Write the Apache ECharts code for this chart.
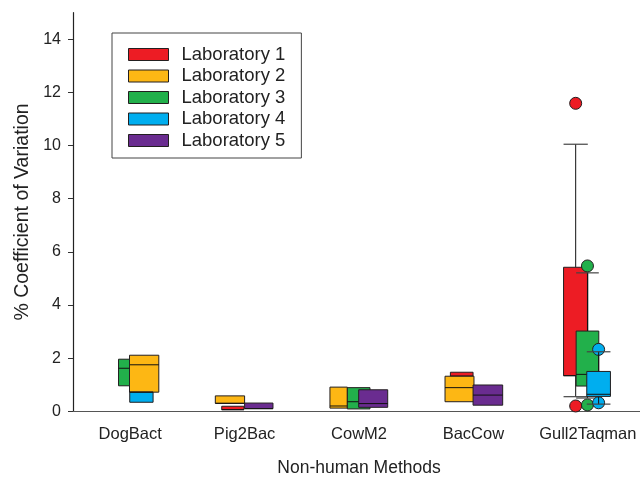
<!DOCTYPE html>
<html>
<head>
<meta charset="utf-8">
<script src="https://cdn.jsdelivr.net/npm/echarts@6/dist/echarts.min.js"></script>
<style>
  html, body { margin: 0; padding: 0; background: #fff; }
  #chart { width: 640px; height: 479px; }
</style>
</head>
<body>
<div id="chart"></div>
<script>
// Methods on the x axis
const categories = ['DogBact', 'Pig2Bac', 'CowM2', 'BacCow', 'Gull2Taqman'];
const labNames = ['Laboratory 1', 'Laboratory 2', 'Laboratory 3', 'Laboratory 4', 'Laboratory 5'];
const yTicks = [0, 2, 4, 6, 8, 10, 12, 14];

// Box statistics per lab: [method index, low whisker, Q1, median, Q3, high whisker]
// (null whisker = no whisker drawn)
const lab1Boxes = [
  [1, null, 0.06, 0.06, 0.19, null],
  [3, null, 1.32, 1.32, 1.47, null],
  [4, 0.55, 1.34, 1.34, 5.42, 10.05]
];
const lab2Boxes = [
  [0, null, 0.72, 1.75, 2.11, null],
  [1, null, 0.30, 0.30, 0.58, null],
  [2, null, 0.12, 0.20, 0.91, null],
  [3, null, 0.36, 0.89, 1.32, null]
];
const lab3Boxes = [
  [0, null, 0.96, 1.62, 1.96, null],
  [2, null, 0.09, 0.36, 0.89, null],
  [4, 0.50, 0.95, 1.39, 3.02, 5.21]
];
const lab4Boxes = [
  [0, null, 0.34, 0.72, 0.72, null],
  [4, 0.27, 0.56, 0.64, 1.50, 2.24]
];
const lab5Boxes = [
  [1, null, 0.10, 0.10, 0.31, null],
  [2, null, 0.15, 0.29, 0.81, null],
  [3, null, 0.23, 0.61, 0.99, null]
];

// Outlying points per lab: [method index, value]
const lab1Outliers = [[4, 11.59], [4, 0.20]];
const lab2Outliers = [];
const lab3Outliers = [[4, 5.47], [4, 0.24]];
const lab4Outliers = [[4, 2.33], [4, 0.32]];
const lab5Outliers = [];

// Horizontal extent of each box, as fractions of the category band
// relative to the category centre (same order as the box arrays above)
const lab1Spans = [[-0.20, -0.006], [-0.201, -0.003], [-0.212, 0.0]];
const lab2Spans = [[-0.006, 0.25], [-0.256, 0.0], [-0.254, -0.102], [-0.248, 0.005]];
const lab3Spans = [[-0.102, -0.006], [-0.102, 0.096], [-0.102, 0.096]];
const lab4Spans = [[-0.004, 0.20], [-0.009, 0.198]];
const lab5Spans = [[0.0, 0.248], [-0.003, 0.251], [-0.003, 0.256]];

const labColors = ['#ED1C24', '#FDB714', '#22B04B', '#00AEEF', '#6A2C90'];
const edgeColor = '#231F20';
const FONT = 'Liberation Sans, Arial, sans-serif';

const labBoxes = [lab1Boxes, lab2Boxes, lab3Boxes, lab4Boxes, lab5Boxes];
const labOutliers = [lab1Outliers, lab2Outliers, lab3Outliers, lab4Outliers, lab5Outliers];
const labSpans = [lab1Spans, lab2Spans, lab3Spans, lab4Spans, lab5Spans];

function num(v) { return (v === null || v === undefined || v === '-' || isNaN(v)) ? NaN : v; }

function boxRenderer(color, spans) {
  return function (params, api) {
    const cat = api.value(0);
    const low = num(api.value(1));
    const q1 = api.value(2), med = api.value(3), q3 = api.value(4);
    const high = num(api.value(5));
    const band = api.size([1, 0])[0];
    const cx = api.coord([cat, 0])[0];
    const span = spans[params.dataIndex];
    const x0 = cx + span[0] * band;
    const x1 = cx + span[1] * band;
    const mid = (x0 + x1) / 2;
    const yQ1 = api.coord([cat, q1])[1];
    const yQ3 = api.coord([cat, q3])[1];
    const yMed = api.coord([cat, med])[1];
    const line = { stroke: '#111', lineWidth: 1 };
    const children = [];
    if (!isNaN(high)) {
      const yH = api.coord([cat, high])[1];
      children.push({ type: 'line', shape: { x1: mid, y1: yQ3, x2: mid, y2: yH }, style: line });
      children.push({ type: 'line', shape: { x1: x0, y1: yH, x2: x1, y2: yH }, style: { stroke: '#444', lineWidth: 1.2 } });
    }
    if (!isNaN(low)) {
      const yL = api.coord([cat, low])[1];
      children.push({ type: 'line', shape: { x1: mid, y1: yQ1, x2: mid, y2: yL }, style: line });
      children.push({ type: 'line', shape: { x1: x0, y1: yL, x2: x1, y2: yL }, style: { stroke: '#444', lineWidth: 1.2 } });
    }
    children.push({
      type: 'rect',
      shape: { x: x0, y: yQ3, width: x1 - x0, height: yQ1 - yQ3 },
      style: { fill: color, stroke: edgeColor, lineWidth: 1 }
    });
    children.push({ type: 'line', shape: { x1: x0, y1: yMed, x2: x1, y2: yMed }, style: line });
    return { type: 'group', children: children };
  };
}

function dotRenderer(color, boxes, spans) {
  return function (params, api) {
    const cat = api.value(0);
    const val = api.value(1);
    const band = api.size([1, 0])[0];
    const cx = api.coord([cat, 0])[0];
    // centre the point on its lab's box for that method
    let mid = cx;
    boxes.forEach(function (b, i) {
      if (b[0] === cat) mid = cx + (spans[i][0] + spans[i][1]) / 2 * band;
    });
    const y = api.coord([cat, val])[1];
    return {
      type: 'circle',
      shape: { cx: mid, cy: y, r: 6 },
      style: { fill: color, stroke: edgeColor, lineWidth: 1 }
    };
  };
}

const series = [];
labNames.forEach(function (name, i) {
  series.push({
    name: name,
    type: 'custom',
    renderItem: dotRenderer(labColors[i], labBoxes[i], labSpans[i]),
    encode: { x: 0, y: 1 },
    itemStyle: { color: labColors[i] },
    data: labOutliers[i],
    silent: true
  });
  series.push({
    name: name,
    type: 'custom',
    renderItem: boxRenderer(labColors[i], labSpans[i]),
    encode: { x: 0, y: [1, 2, 3, 4, 5] },
    itemStyle: { color: labColors[i] },
    data: labBoxes[i],
    silent: true
  });
});

const chart = echarts.init(document.getElementById('chart'), null, { renderer: 'canvas' });
chart.setOption({
  animation: false,
  backgroundColor: '#fff',
  textStyle: { fontFamily: FONT },
  grid: { left: 73, top: 12.7, width: 572, height: 398.6, containLabel: false, outerBoundsMode: 'none' },
  legend: {
    left: 112,
    top: 33,
    orient: 'vertical',
    padding: [12, 16, 8, 16],
    borderColor: '#444',
    borderWidth: 1,
    itemWidth: 40,
    itemHeight: 12,
    itemGap: 2.5,
    icon: 'rect',
    selectedMode: false,
    textStyle: { fontSize: 18.5, color: '#222', fontFamily: FONT, padding: [0, 0, 0, 8] },
    data: labNames.map(function (n, i) {
      return { name: n, itemStyle: { color: labColors[i], borderColor: edgeColor, borderWidth: 1 } };
    })
  },
  xAxis: {
    type: 'category',
    data: categories,
    name: 'Non-human Methods',
    nameLocation: 'middle',
    nameGap: 48,
    nameTextStyle: { fontSize: 17.5, color: '#222', fontFamily: FONT },
    axisLine: { lineStyle: { color: '#555', width: 1.2 } },
    axisTick: { alignWithLabel: true, length: 6, lineStyle: { color: '#555' } },
    axisLabel: { interval: 0, fontSize: 16.5, color: '#222', margin: 15, fontFamily: FONT },
    splitLine: { show: false }
  },
  yAxis: {
    type: 'value',
    min: 0,
    max: 15,
    interval: 1,
    name: '% Coefficient of Variation',
    nameLocation: 'middle',
    nameGap: 40,
    nameTextStyle: { fontSize: 19.5, color: '#222', fontFamily: FONT },
    axisLine: { show: true, lineStyle: { color: '#222', width: 1.2 } },
    axisTick: { show: true, length: 5, customValues: yTicks, lineStyle: { color: '#333' } },
    axisLabel: { fontSize: 16, color: '#222', margin: 12, customValues: yTicks, fontFamily: FONT },
    splitLine: { show: false }
  },
  series: series
});
</script>
</body>
</html>
